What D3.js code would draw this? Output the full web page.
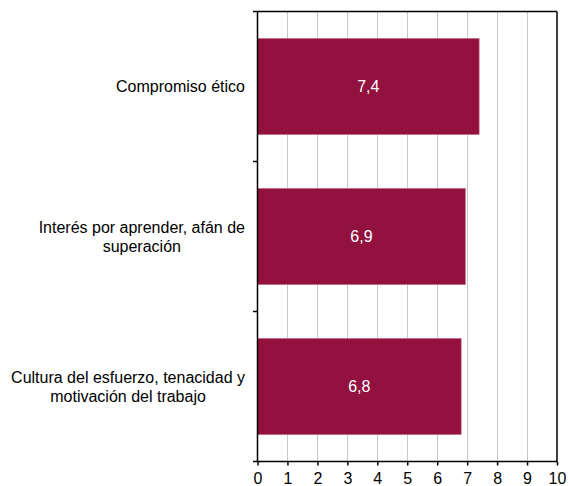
<!DOCTYPE html>
<html><head><meta charset="utf-8">
<script src="https://cdn.jsdelivr.net/npm/d3@7"></script>
<style>body{margin:0;background:#fff}svg{display:block}text{font-family:"Liberation Sans",Arial,sans-serif}</style>
</head><body>
<script>
const categories = [["Compromiso ético"],["Interés por aprender, afán de","superación"],["Cultura del esfuerzo, tenacidad y","motivación del trabajo"]];
const values = [7.4, 6.94, 6.8];
const valueLabels = ["7,4","6,9","6,8"];
const xTicks = [0,1,2,3,4,5,6,7,8,9,10];

const W=568,H=486,FS=16;
const L=257.5,R=557,T=11.5,B=461.5;
const svg=d3.select("body").append("svg").attr("width",W).attr("height",H);
const x=d3.scaleLinear().domain([0,10]).range([L,R]);
const y=d3.scaleBand().domain(d3.range(categories.length)).range([T,B]).paddingInner(0.36).paddingOuter(0.18);
const yb=d3.scaleBand().domain(d3.range(categories.length)).range([T,B]);

// gridlines
svg.append("g").selectAll("line").data(xTicks.slice(1,-1)).join("line")
 .attr("x1",d=>Math.round(x(d))+0.5).attr("x2",d=>Math.round(x(d))+0.5).attr("y1",T).attr("y2",B)
 .attr("stroke","#c8c8c8").attr("stroke-width",1);

// bars
svg.append("g").selectAll("rect").data(values).join("rect")
 .attr("x",x(0)).attr("y",(d,i)=>y(i)).attr("width",d=>x(d)-x(0)).attr("height",y.bandwidth())
 .attr("fill","#93113f").attr("stroke","#c0607f").attr("stroke-width",0.6);

// value labels
svg.append("g").selectAll("text").data(values).join("text")
 .attr("x",d=>(x(0)+x(d))/2).attr("y",(d,i)=>y(i)+y.bandwidth()/2).attr("dy","0.35em")
 .attr("text-anchor","middle").attr("fill","#fff").attr("font-size",FS).text((d,i)=>valueLabels[i]);

// border top/right
svg.append("line").attr("x1",253).attr("x2",R).attr("y1",T).attr("y2",T).attr("stroke","#000").attr("stroke-width",1.5);
svg.append("line").attr("x1",R).attr("x2",R).attr("y1",T).attr("y2",B).attr("stroke","#000").attr("stroke-width",1.5);

// x axis
const xa=svg.append("g").attr("transform",`translate(0,${B})`)
 .call(d3.axisBottom(x).tickValues(xTicks).tickSize(4).tickPadding(7).tickFormat(d3.format("d")));
xa.select(".domain").attr("stroke","#000").attr("stroke-width",1.5).attr("d",`M253,0H${R}`);
xa.selectAll(".tick line").attr("stroke","#000").attr("stroke-width",1.5);
xa.selectAll(".tick text").attr("font-size",FS).attr("fill","#000").attr("font-family","Liberation Sans, Arial, sans-serif");

// y axis line & ticks
svg.append("line").attr("x1",L).attr("x2",L).attr("y1",T).attr("y2",B).attr("stroke","#000").attr("stroke-width",1.5);
svg.append("g").selectAll("line").data(d3.range(1,categories.length)).join("line")
 .attr("x1",253).attr("x2",L).attr("y1",d=>yb(d)).attr("y2",d=>yb(d)).attr("stroke","#000").attr("stroke-width",1.5);

// category labels
const lh=19;
categories.forEach((lines,i)=>{
  const g=svg.append("g");
  const cy=yb(i)+yb.bandwidth()/2;
  const texts=lines.map((s,j)=>g.append("text").attr("font-size",FS).attr("fill","#000")
     .attr("text-anchor","middle").attr("y",cy+(j-(lines.length-1)/2)*lh).attr("dy","0.35em").text(s));
  const maxW=d3.max(texts,t=>t.node().getComputedTextLength());
  texts.forEach(t=>t.attr("x",245-maxW/2));
});
</script>
</body></html>
